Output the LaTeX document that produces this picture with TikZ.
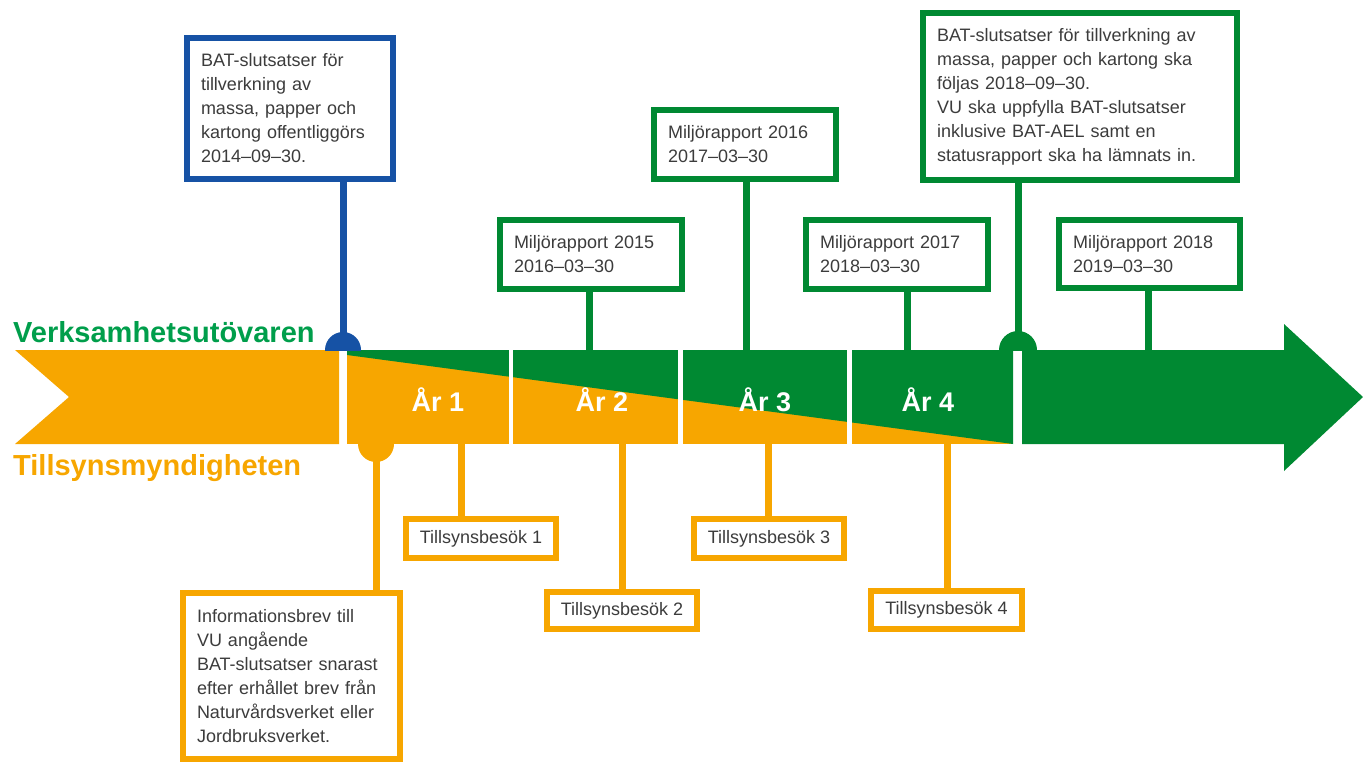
\documentclass[tikz,border=0pt]{standalone}
\usepackage{fontspec}
\setmainfont{Liberation Sans}
\definecolor{vgreen}{RGB}{0,137,50}
\definecolor{lgreen}{RGB}{0,158,75}
\definecolor{vorange}{RGB}{247,166,0}
\definecolor{vblue}{RGB}{22,82,165}
\definecolor{txt}{RGB}{60,60,60}
\begin{document}
\begin{tikzpicture}[x=1pt,y=-1pt,
  box/.style={draw, line width=6pt, fill=white, text=txt, font=\fontsize{18}{24}\selectfont,
    align=left, inner xsep=14pt, inner ysep=0pt, anchor=north west},
  gbox/.style={box, draw=vgreen},
  obox/.style={box, draw=vorange},
  bbox/.style={box, draw=vblue},
  tbox/.style={draw=vorange, line width=6pt, fill=white, text=txt, font=\fontsize{18}{24}\selectfont,
    inner sep=0pt, anchor=north west, align=center},
  stem/.style={line width=7pt},
  gap/.style={draw=white, line width=4.5pt},
  yearlab/.style={text=white, font=\fontsize{27}{27}\selectfont\bfseries, inner sep=0pt, anchor=base},
  sidelab/.style={font=\fontsize{29}{29}\selectfont\bfseries, inner sep=0pt, anchor=base west}
]
\useasboundingbox (0,0) rectangle (1363,764);

% ---- main band ----
\fill[vorange] (15,350) -- (339,350) -- (339,444) -- (15,444) -- (69,397) -- cycle;
\fill[vorange] (347,350) -- (1013,350) -- (1013,444) -- (347,444) -- cycle;
\fill[vgreen] (347,350) -- (1013,350) -- (1013,444) -- (347,355) -- cycle;
\fill[vgreen] (1022,350) -- (1284,350) -- (1284,324) -- (1363,397) -- (1284,471) -- (1284,444) -- (1022,444) -- cycle;
\draw[gap] (511,349) -- (511,445);
\draw[gap] (680.5,349) -- (680.5,445);
\draw[gap] (849.5,349) -- (849.5,445);

% ---- year labels ----
\node[yearlab] (y1) at (438,411) {År 1};
\node[yearlab] (y2) at (602,411) {År 2};
\node[yearlab] (y3) at (765,411) {År 3};
\node[yearlab] (y4) at (928,411) {År 4};

% ---- side labels ----
\node[sidelab, text=lgreen] (vu) at (13,342) {Verksamhetsutövaren};
\node[sidelab, text=vorange] (tm) at (13,475) {Tillsynsmyndigheten};

% ---- boxes ----
\node[bbox, text width=178pt, minimum height=141pt] (b0) at (184,35)
  {BAT-slutsatser för\\tillverkning av\\massa, papper och\\kartong offentliggörs\\2014–09–30.};
\node[obox, text width=189pt, minimum height=166pt] (info) at (180,590)
  {Informationsbrev till\\VU angående\\BAT-slutsatser snarast\\efter erhållet brev från\\Naturvårdsverket eller\\Jordbruksverket.};
\node[gbox, text width=154pt, minimum height=69pt] (m15) at (497,217) {Miljörapport 2015\\2016–03–30};
\node[gbox, text width=154pt, minimum height=69pt] (m16) at (651,107) {Miljörapport 2016\\2017–03–30};
\node[gbox, text width=154pt, minimum height=69pt] (m17) at (803,217) {Miljörapport 2017\\2018–03–30};
\node[gbox, text width=153pt, minimum height=68pt] (m18) at (1056,217) {Miljörapport 2018\\2019–03–30};
\node[gbox, text width=286pt, minimum height=167pt] (big) at (920,10)
  {BAT-slutsatser för tillverkning av\\massa, papper och kartong ska\\följas 2018–09–30.\\VU ska uppfylla BAT-slutsatser\\inklusive BAT-AEL samt en\\statusrapport ska ha lämnats in.};
\node[tbox, minimum width=150pt, minimum height=39pt] (t1) at (403,516) {Tillsynsbesök 1};
\node[tbox, minimum width=150pt, minimum height=37pt] (t2) at (544,589) {Tillsynsbesök 2};
\node[tbox, minimum width=150pt, minimum height=39pt] (t3) at (691,516) {Tillsynsbesök 3};
\node[tbox, minimum width=151pt, minimum height=38pt] (t4) at (868,588) {Tillsynsbesök 4};

% ---- attachment points on the band ----
\coordinate (d0) at (343,350);
\coordinate (d1) at (376,444);
\coordinate (d2) at (1018,350);
\coordinate (g15) at (589,350);
\coordinate (g16) at (746,350);
\coordinate (g17) at (907,350);
\coordinate (g18) at (1148,350);
\coordinate (o1) at (461,444);
\coordinate (o2) at (622,444);
\coordinate (o3) at (768,444);
\coordinate (o4) at (947,444);

% ---- stems ----
\draw[stem, vblue] (b0.south -| d0) -- (d0);
\draw[stem, vorange] (d1) -- (info.north -| d1);
\draw[stem, vgreen] (big.south -| d2) -- (d2);
\draw[stem, vgreen] (m15.south -| g15) -- (g15);
\draw[stem, vgreen] (m16.south -| g16) -- (g16);
\draw[stem, vgreen] (m17.south -| g17) -- (g17);
\draw[stem, vgreen] (m18.south -| g18) -- (g18);
\draw[stem, vorange] (o1) -- (t1.north -| o1);
\draw[stem, vorange] (o2) -- (t2.north -| o2);
\draw[stem, vorange] (o3) -- (t3.north -| o3);
\draw[stem, vorange] (o4) -- (t4.north -| o4);

% ---- domes ----
\begin{scope}
  \clip (300,300) rectangle (1100,350);
  \fill[vblue] (d0) circle[radius=18pt];
  \fill[vgreen] (d2) circle[radius=19pt];
\end{scope}
\begin{scope}
  \clip (300,444) rectangle (450,500);
  \fill[vorange] (d1) circle[radius=18pt];
\end{scope}
\end{tikzpicture}
\end{document}
